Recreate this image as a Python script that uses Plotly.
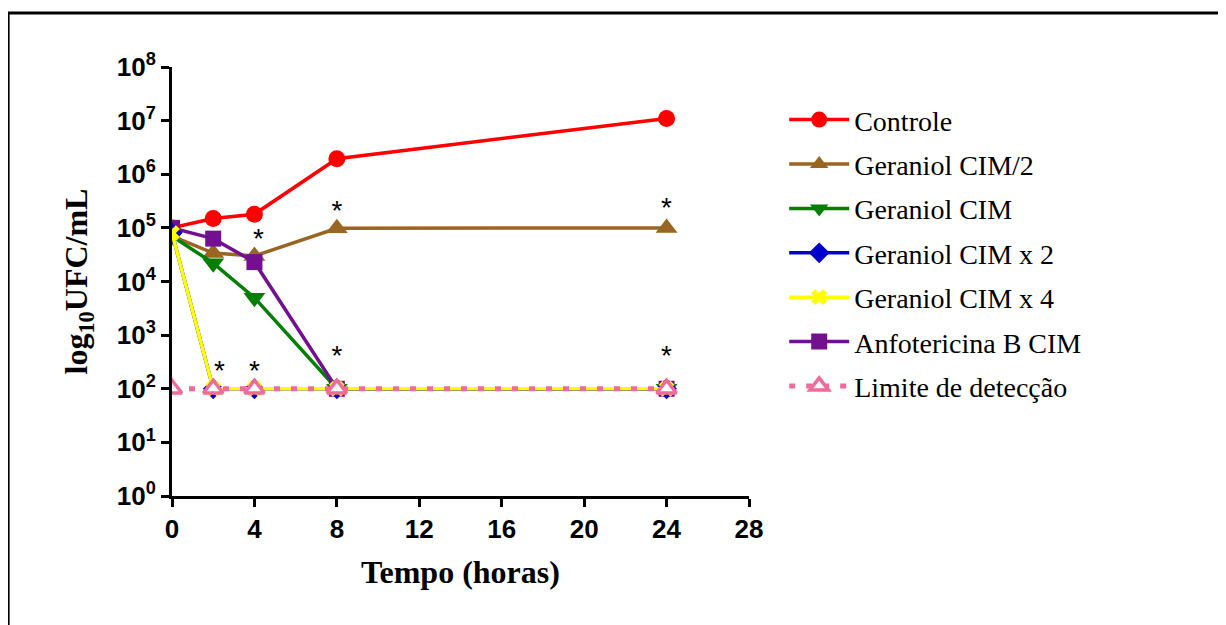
import plotly.graph_objects as go

tempo = [0, 2, 4, 8, 24]
controle = [1.0e5, 1.5e5, 1.8e5, 1.95e6, 1.1e7]
geraniol_cim2 = [7.0e4, 3.4e4, 3.0e4, 9.8e4, 1.0e5]
geraniol_cim = [7.0e4, 2.2e4, 5.0e3, 100, 100]
geraniol_cimx2 = [8.0e4, 100, 100, 100, 100]
geraniol_cimx4 = [8.0e4, 100, 100, 100, 100]
anfotericina = [1.0e5, 6.3e4, 2.3e4, 100, 100]
limite = [100, 100, 100, 100, 100]

ast_x = [4.2, 8, 24, 2.3, 4, 8, 24]
ast_y = [5.8e4, 1.9e5, 2.2e5, 200, 200, 380, 380]

xticks = [0, 4, 8, 12, 16, 20, 24, 28]
yticks = [1, 10, 100, 1e3, 1e4, 1e5, 1e6, 1e7, 1e8]
yticktext = ["10<sup>%d</sup>" % i for i in range(9)]

series = [
    ("Controle", controle, "#FF0000", "circle", 17, 1),
    ("Geraniol CIM/2", geraniol_cim2, "#996622", "triangle-up", 19, 2),
    ("Geraniol CIM", geraniol_cim, "#007F00", "triangle-down", 19, 3),
    ("Anfotericina B CIM", anfotericina, "#73108F", "square", 16, 6),
    ("Geraniol CIM x 2", geraniol_cimx2, "#0000CC", "diamond", 16, 4),
    ("Geraniol CIM x 4", geraniol_cimx4, "#FFFF00", "x", 14, 5),
]

fig = go.Figure()
for name, vals, color, sym, size, rank in series:
    fig.add_trace(go.Scatter(
        x=tempo, y=vals, name=name, mode="lines+markers",
        line=dict(color=color, width=3.5),
        marker=dict(color=color, symbol=sym, size=size, line=dict(width=0)),
        legendrank=rank, legendgroup=name,
    ))

fig.add_trace(go.Scatter(
    x=tempo, y=limite, name="Limite de detecção", mode="lines+markers",
    line=dict(color="#F06A9A", width=5, dash="6px,11px"),
    marker=dict(color="white", symbol="triangle-up", size=17,
                line=dict(color="#F06A9A", width=3.5)),
    legendrank=7, legendgroup="lim",
))

fig.add_trace(go.Scatter(
    x=ast_x, y=ast_y, mode="text", text=["*"] * len(ast_x),
    textfont=dict(family="Liberation Sans", size=28, color="black"),
    showlegend=False, hoverinfo="skip",
))

fig.add_shape(type="rect", xref="paper", yref="paper",
              x0=-0.284, x1=1.84, y0=-0.35, y1=1.126,
              line=dict(color="black", width=3), fillcolor="rgba(0,0,0,0)")

fig.update_layout(
    width=1218, height=617,
    margin=dict(l=164, r=477, t=59, b=129),
    paper_bgcolor="white", plot_bgcolor="white",
    showlegend=True,
    legend=dict(x=1.061, y=0.935, xanchor="left", yanchor="top",
                font=dict(family="Liberation Serif", size=28, color="black"),
                tracegroupgap=5, itemwidth=60, bgcolor="rgba(0,0,0,0)"),
    xaxis=dict(
        range=[0, 28], tickvals=xticks, ticktext=[str(t) for t in xticks],
        showgrid=False, zeroline=False, showline=True, linecolor="black", linewidth=3,
        ticks="outside", ticklen=8, tickwidth=3, tickcolor="black",
        tickfont=dict(family="Liberation Sans", size=26, color="black", weight="bold"),
        title=dict(text="Tempo (horas)", standoff=18,
                   font=dict(family="Liberation Serif", size=32, color="black", weight="bold")),
    ),
    yaxis=dict(
        type="log", range=[0, 8], tickvals=yticks, ticktext=yticktext,
        showgrid=False, zeroline=False, showline=True, linecolor="black", linewidth=3,
        ticks="outside", ticklen=8, tickwidth=3, tickcolor="black",
        tickfont=dict(family="Liberation Sans", size=26, color="black", weight="bold"),
        title=dict(text="log<sub>10</sub>UFC/mL", standoff=20,
                   font=dict(family="Liberation Serif", size=32, color="black", weight="bold")),
    ),
)

fig.write_html("out.html")
